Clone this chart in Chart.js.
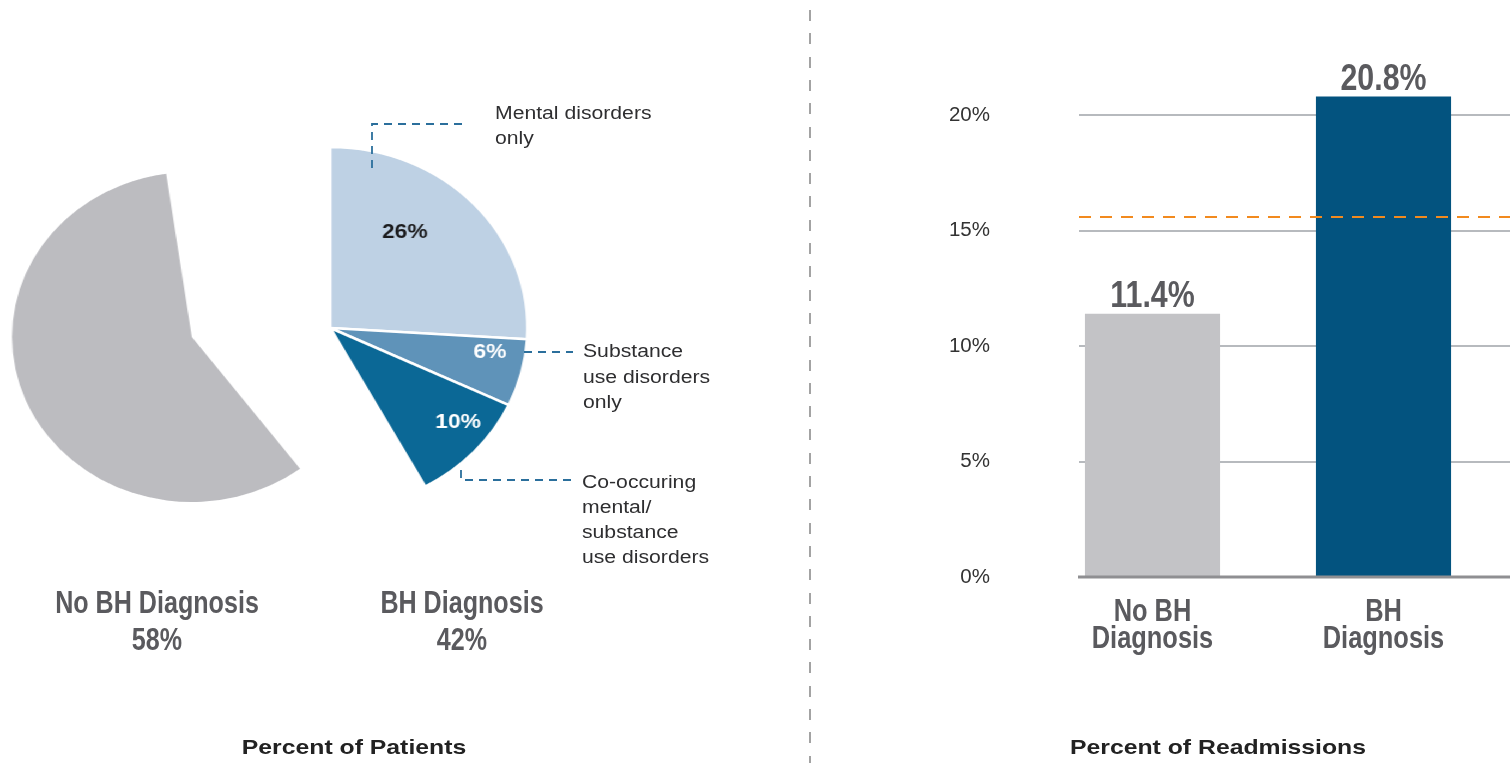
<!DOCTYPE html>
<html>
<head>
<meta charset="utf-8">
<title>BH Diagnosis: patients and readmissions</title>
<script src="https://cdn.jsdelivr.net/npm/chart.js@4.4.1/dist/chart.umd.min.js"></script>
<style>
  html, body { margin: 0; padding: 0; background: #fff; }
  body { width: 1510px; height: 763px; overflow: hidden; position: relative; font-family: "Liberation Sans", Arial, sans-serif; }
  #bars { position: absolute; left: 0; top: 0; }
  /* pie area is drawn slightly wide, like the printed figure */
  #pies { position: absolute; left: 0; top: 0; width: 700px; height: 763px; transform: scaleX(1.09); transform-origin: 0 0; }
  #pies canvas { position: absolute; }
  #bhPie { left: 103px; top: 128px; }
  #grayPie { left: -24px; top: 137px; }
  .divider { position: absolute; left: 809px; top: 0; width: 2px; height: 763px;
    background: repeating-linear-gradient(to bottom, transparent 0 10px, #a3a3a3 10px 21px, transparent 21px 23.3px); }
  .leaders { position: absolute; left: 0; top: 0; }
  .note { position: absolute; font-size: 17.5px; color: #2e2e30; white-space: nowrap; transform: scaleX(1.21); transform-origin: 0 0; }
  /* condensed bold headings */
  .group { position: absolute; width: 300px; text-align: center; font-weight: bold; font-size: 31px; line-height: 37px;
    color: #5a5a5e; transform: scaleX(0.81); }
  .title { position: absolute; width: 400px; text-align: center; font-weight: bold; font-size: 21px; line-height: 24px;
    color: #222; transform: scaleX(1.18); }
</style>
</head>
<body>
<canvas id="bars" width="1510" height="763"></canvas>
<div id="pies">
  <canvas id="grayPie" width="400" height="400"></canvas>
  <canvas id="bhPie" width="400" height="400"></canvas>
</div>
<div class="divider"></div>
<svg class="leaders" width="1510" height="763">
  <g fill="none" stroke="#2b6f9c" stroke-width="1.8" stroke-dasharray="8 6">
    <polyline points="372,168 372,124 467,124"/>
    <polyline points="524,352 573,352"/>
    <polyline points="461,470 461,480 571,480"/>
  </g>
</svg>
<div class="note" style="left:495px; top:101px; line-height:25px;">Mental disorders<br>only</div>
<div class="note" style="left:583px; top:339px; line-height:25.5px;">Substance<br>use disorders<br>only</div>
<div class="note" style="left:582px; top:470px; line-height:25px;">Co-occuring<br>mental/<br>substance<br>use disorders</div>
<div class="group" style="left:7px; top:584px;">No BH Diagnosis<br>58%</div>
<div class="group" style="left:312px; top:584px;">BH Diagnosis<br>42%</div>
<div class="title" style="left:154px; top:735px;">Percent of Patients</div>
<div class="title" style="left:1018px; top:735px;">Percent of Readmissions</div>

<script>
// share of patients
const pieLabels = ['Mental disorders only', 'Substance use disorders only', 'Co-occuring mental/substance use disorders', 'No BH Diagnosis']
const pieValues = [26, 6, 10, 58]
const pieColors = ['#bed1e4', '#5f93b9', '#0b6896', '#bcbcc0']

// readmission rates
const groups = [['No BH', 'Diagnosis'], ['BH', 'Diagnosis']]
const readmitRates = [11.4, 20.8]
const barColors = ['#c3c3c6', '#03537f']
const rateTicks = [0, 5, 10, 15, 20]
const overallRate = 15.6

const SANS = '"Liberation Sans", Arial, sans-serif'
const CONDENSE = 0.82

Chart.defaults.font.family = SANS
Chart.defaults.animation = false

// percentage text inside the BH slices; at = position along the arc, r = fraction of radius
const sliceText = [
    {index: 0, at: 0.38, r: 0.65, color: '#1b1b1d'},
    {index: 1, at: 0.26, r: 0.82, color: '#ffffff'},
    {index: 2, at: 0.375, r: 0.83, color: '#ffffff'},
]

const sliceLabels = {
    id: 'sliceLabels',
    afterDatasetsDraw(chart) {
        const ctx = chart.ctx
        const arcs = chart.getDatasetMeta(0).data
        ctx.save()
        ctx.font = 'bold 21px ' + SANS
        ctx.textAlign = 'center'
        ctx.textBaseline = 'middle'
        sliceText.forEach(function (item) {
            const arc = arcs[item.index]
            const a = arc.startAngle + (arc.endAngle - arc.startAngle) * item.at
            const r = arc.outerRadius * item.r
            ctx.fillStyle = item.color
            ctx.fillText(pieValues[item.index] + '%', arc.x + Math.cos(a) * r, arc.y + Math.sin(a) * r)
        })
        ctx.restore()
    }
}

function pieConfig(shown, radius, rotation, plugins) {
    return {
        type: 'pie',
        data: {
            labels: pieLabels,
            datasets: [{
                data: pieValues,
                backgroundColor: pieColors.map(function (c, i) {return shown.includes(i) ? c : 'rgba(0,0,0,0)'}),
                borderColor: '#ffffff',
                borderWidth: pieValues.map(function (v, i) {return shown.includes(i) && shown.length > 1 ? 2.5 : 0}),
            }]
        },
        options: {
            responsive: false,
            radius: radius,
            rotation: rotation,
            layout: {padding: 0},
            plugins: {legend: {display: false}, tooltip: {enabled: false}},
        },
        plugins: plugins,
    }
}

new Chart(document.querySelector('#grayPie'), pieConfig([3], 165, -8.2, []))
new Chart(document.querySelector('#bhPie'), pieConfig([0, 1, 2], 181, 0, [sliceLabels]))

// draws condensed text by squeezing the context horizontally
function narrowText(ctx, text, x, y) {
    ctx.save()
    ctx.translate(x, y)
    ctx.scale(CONDENSE, 1)
    ctx.fillText(text, 0, 0)
    ctx.restore()
}

// horizontal rules run out to the page edge, past the plot area
const GRID_LEFT = 1079

const rules = {
    id: 'rules',
    beforeDatasetsDraw(chart) {
        const ctx = chart.ctx
        const y = chart.scales.y
        ctx.save()
        ctx.strokeStyle = '#b7babe'
        ctx.lineWidth = 2
        rateTicks.slice(1).forEach(function (v) {
            const py = Math.round(y.getPixelForValue(v))
            ctx.beginPath()
            ctx.moveTo(GRID_LEFT, py)
            ctx.lineTo(chart.width, py)
            ctx.stroke()
        })
        ctx.restore()
    },
    afterDatasetsDraw(chart) {
        const ctx = chart.ctx
        const y = chart.scales.y
        ctx.save()
        // zero line
        ctx.strokeStyle = '#8f8f92'
        ctx.lineWidth = 3
        const py0 = Math.round(y.getPixelForValue(0))
        ctx.beginPath()
        ctx.moveTo(GRID_LEFT - 1, py0)
        ctx.lineTo(chart.width, py0)
        ctx.stroke()
        // overall rate
        ctx.strokeStyle = '#f28a1e'
        ctx.lineWidth = 2
        ctx.setLineDash([12, 9])
        const pyo = Math.round(y.getPixelForValue(overallRate))
        ctx.beginPath()
        ctx.moveTo(GRID_LEFT, pyo)
        ctx.lineTo(chart.width, pyo)
        ctx.stroke()
        ctx.restore()
    }
}

const barText = {
    id: 'barText',
    afterDatasetsDraw(chart) {
        const ctx = chart.ctx
        const x = chart.scales.x
        ctx.save()
        ctx.fillStyle = '#5a5a5e'
        ctx.textAlign = 'center'

        // values above the bars
        ctx.font = 'bold 37px ' + SANS
        ctx.textBaseline = 'alphabetic'
        chart.getDatasetMeta(0).data.forEach(function (bar, i) {
            narrowText(ctx, readmitRates[i].toFixed(1) + '%', bar.x, bar.y - 7)
        })

        // category names under the axis
        ctx.font = 'bold 31px ' + SANS
        ctx.textBaseline = 'middle'
        groups.forEach(function (lines, i) {
            const px = x.getPixelForValue(i)
            lines.forEach(function (line, k) {
                narrowText(ctx, line, px, x.top + 35 + k * 27)
            })
        })
        ctx.restore()
    }
}

new Chart(document.querySelector('#bars'), {
    type: 'bar',
    data: {
        labels: groups,
        datasets: [{
            data: readmitRates,
            backgroundColor: barColors,
            borderWidth: 0,
            barPercentage: 0.585,
            categoryPercentage: 1,
        }]
    },
    options: {
        responsive: false,
        layout: {padding: {left: 0, right: 11, top: 68.8, bottom: 0}},
        scales: {
            x: {
                grid: {display: false, drawTicks: false},
                border: {display: false},
                ticks: {display: false},
                afterFit: function (scale) {scale.height = 186},
            },
            y: {
                min: 0,
                max: 22,
                grid: {display: false, drawTicks: false},
                border: {display: false},
                ticks: {
                    stepSize: 5,
                    includeBounds: false,
                    padding: 47,
                    color: '#333333',
                    font: {size: 20.5},
                    callback: function (v) {return v + '%'},
                },
                afterFit: function (scale) {scale.width = 1037},
            },
        },
        plugins: {legend: {display: false}, tooltip: {enabled: false}},
    },
    plugins: [rules, barText],
})
</script>
</body>
</html>
